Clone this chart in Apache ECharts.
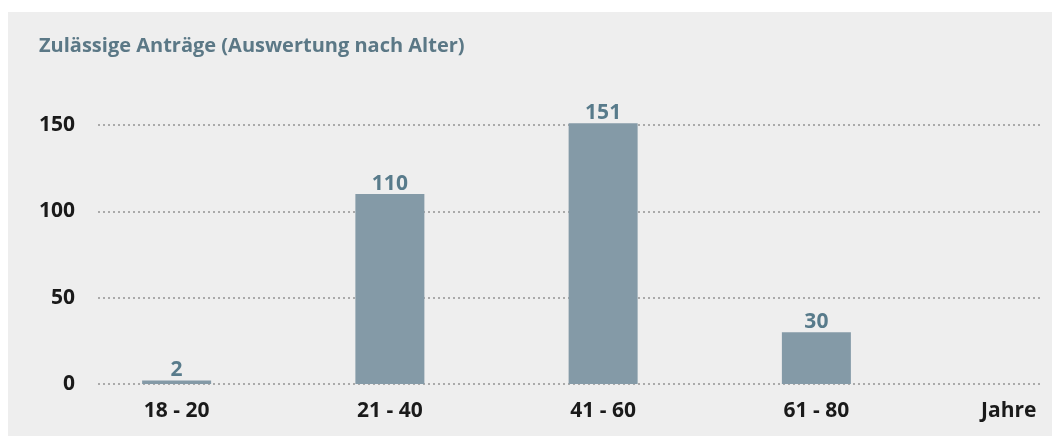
<!DOCTYPE html>
<html>
<head>
<meta charset="utf-8">
<script src="https://cdn.jsdelivr.net/npm/echarts@6/dist/echarts.min.js"></script>
<style>
  html, body { margin: 0; padding: 0; background: #ffffff; }
  #chart { width: 1052px; height: 437px; }
</style>
</head>
<body>
<div id="chart"></div>
<script>
// Altersgruppen und Anzahl zulässiger Anträge
var categories = ['18 - 20', '21 - 40', '41 - 60', '61 - 80'];
var antraege = [2, 110, 151, 30];
var yTicks = [0, 50, 100, 150];

var fontFam = '"Open Sans", "Noto Sans", sans-serif';

var chart = echarts.init(document.getElementById('chart'));
chart.setOption({
  backgroundColor: '#ffffff',
  animation: false,
  graphic: [{
    type: 'rect',
    left: 8, top: 12,
    shape: { width: 1044, height: 424 },
    style: { fill: '#eeeeee' },
    z: -10
  }],
  title: {
    text: 'Zulässige Anträge (Auswertung nach Alter)',
    left: 34, top: 31,
    textStyle: { fontFamily: fontFam, fontSize: 20, fontWeight: 'bold', color: '#5b7886' }
  },
  grid: [
    // Balken
    { left: 70, right: 129, top: 125, bottom: 53 },
    // gepunktete Hilfslinien + y-Beschriftung
    { left: 98, right: 9, top: 125, bottom: 53 }
  ],
  xAxis: [{
    type: 'category',
    gridIndex: 0,
    data: categories,
    axisLine: { show: false },
    axisTick: { show: false },
    axisLabel: { fontFamily: fontFam, fontSize: 21, fontWeight: 'bold', color: '#1a1a1a', margin: 17 },
    name: 'Jahre',
    nameLocation: 'end',
    nameGap: 58,
    nameTextStyle: {
      fontFamily: fontFam, fontSize: 21, fontWeight: 'bold', color: '#1a1a1a',
      verticalAlign: 'top', padding: [17, 0, 0, 0]
    }
  }, {
    type: 'value',
    gridIndex: 1,
    show: false
  }],
  yAxis: [{
    type: 'value',
    gridIndex: 0,
    min: 0, max: yTicks[yTicks.length - 1], interval: 50,
    show: false,
    splitLine: { show: false }
  }, {
    type: 'value',
    gridIndex: 1,
    min: yTicks[0], max: yTicks[yTicks.length - 1], interval: 50,
    axisLine: { show: false },
    axisTick: { show: false },
    axisLabel: { fontFamily: fontFam, fontSize: 21, fontWeight: 'bold', color: '#1a1a1a', margin: 23 },
    splitLine: { lineStyle: { color: '#aaaaaa', type: [2, 3], width: 2 } }
  }],
  series: [{
    type: 'bar',
    xAxisIndex: 0,
    yAxisIndex: 0,
    data: antraege,
    barWidth: 69,
    clip: false,
    itemStyle: { color: '#849aa7' },
    label: {
      show: true,
      position: 'top',
      distance: 0,
      fontFamily: fontFam, fontSize: 21, fontWeight: 'bold', color: '#587b8b'
    }
  }]
});
</script>
</body>
</html>
